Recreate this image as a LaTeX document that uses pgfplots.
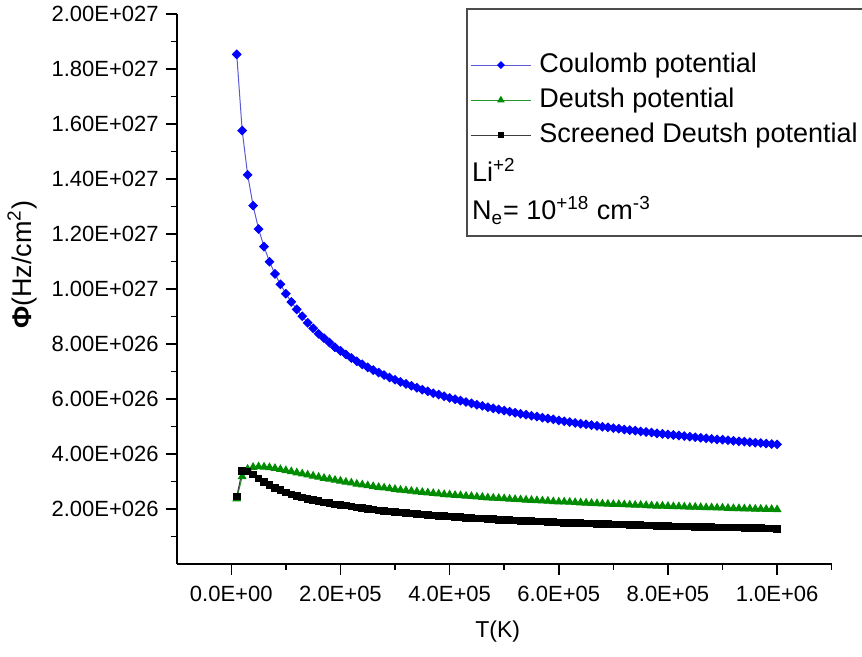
\documentclass[border=0pt]{standalone}
\usepackage{fontspec}
\setmainfont{Liberation Sans}
\usepackage{pgfplots}
\usepackage{pgfplotstable}
\pgfplotsset{compat=1.18}
\usetikzlibrary{calc}
\definecolor{cblue}{RGB}{0,0,255}
\definecolor{cblueline}{RGB}{90,90,215}
\definecolor{cgreen}{RGB}{0,140,0}
\definecolor{cgreenline}{RGB}{40,150,40}
\definecolor{cblackline}{RGB}{60,60,60}

\pgfplotstableread{
T C D S
10000 1.853e27 2.37e26 2.45e26
20000 1.576e27 3.18e26 3.38e26
30000 1.415e27 3.45e26 3.36e26
40000 1.303e27 3.52e26 3.25e26
50000 1.218e27 3.54e26 3.11e26
60000 1.154e27 3.53e26 2.98e26
70000 1.099e27 3.51e26 2.87e26
80000 1.055e27 3.48e26 2.77e26
90000 1.017e27 3.44e26 2.68e26
100000 9.83e26 3.40e26 2.60e26
110000 9.53e26 3.36e26 2.53e26
120000 9.26e26 3.32e26 2.47e26
130000 9.01e26 3.28e26 2.42e26
140000 8.77e26 3.24e26 2.37e26
150000 8.57e26 3.20e26 2.32e26
160000 8.37e26 3.16e26 2.28e26
170000 8.21e26 3.12e26 2.24e26
180000 8.05e26 3.09e26 2.21e26
190000 7.88e26 3.05e26 2.17e26
200000 7.75e26 3.02e26 2.15e26
210000 7.62e26 2.98e26 2.12e26
220000 7.49e26 2.95e26 2.09e26
230000 7.37e26 2.91e26 2.06e26
240000 7.26e26 2.88e26 2.03e26
250000 7.15e26 2.85e26 2.00e26
260000 7.05e26 2.82e26 1.98e26
270000 6.96e26 2.79e26 1.95e26
280000 6.87e26 2.77e26 1.93e26
290000 6.78e26 2.74e26 1.91e26
300000 6.70e26 2.72e26 1.89e26
310000 6.62e26 2.69e26 1.87e26
320000 6.55e26 2.67e26 1.85e26
330000 6.48e26 2.65e26 1.83e26
340000 6.41e26 2.63e26 1.81e26
350000 6.34e26 2.61e26 1.80e26
360000 6.28e26 2.59e26 1.78e26
370000 6.21e26 2.57e26 1.77e26
380000 6.16e26 2.55e26 1.75e26
390000 6.10e26 2.53e26 1.74e26
400000 6.04e26 2.52e26 1.72e26
410000 5.99e26 2.50e26 1.71e26
420000 5.94e26 2.49e26 1.70e26
430000 5.89e26 2.47e26 1.68e26
440000 5.84e26 2.46e26 1.67e26
450000 5.79e26 2.44e26 1.66e26
460000 5.75e26 2.43e26 1.65e26
470000 5.70e26 2.41e26 1.64e26
480000 5.66e26 2.40e26 1.63e26
490000 5.62e26 2.39e26 1.61e26
500000 5.58e26 2.38e26 1.60e26
510000 5.54e26 2.36e26 1.59e26
520000 5.50e26 2.35e26 1.58e26
530000 5.46e26 2.34e26 1.57e26
540000 5.43e26 2.33e26 1.56e26
550000 5.39e26 2.32e26 1.56e26
560000 5.36e26 2.31e26 1.55e26
570000 5.32e26 2.30e26 1.54e26
580000 5.29e26 2.29e26 1.53e26
590000 5.26e26 2.27e26 1.52e26
600000 5.22e26 2.26e26 1.51e26
610000 5.19e26 2.26e26 1.50e26
620000 5.16e26 2.25e26 1.50e26
630000 5.13e26 2.24e26 1.49e26
640000 5.10e26 2.23e26 1.48e26
650000 5.08e26 2.22e26 1.47e26
660000 5.05e26 2.21e26 1.47e26
670000 5.02e26 2.20e26 1.46e26
680000 4.99e26 2.19e26 1.45e26
690000 4.97e26 2.18e26 1.45e26
700000 4.94e26 2.17e26 1.44e26
710000 4.92e26 2.17e26 1.43e26
720000 4.89e26 2.16e26 1.43e26
730000 4.87e26 2.15e26 1.42e26
740000 4.85e26 2.14e26 1.41e26
750000 4.82e26 2.14e26 1.41e26
760000 4.80e26 2.13e26 1.40e26
770000 4.78e26 2.12e26 1.40e26
780000 4.75e26 2.11e26 1.39e26
790000 4.73e26 2.11e26 1.39e26
800000 4.71e26 2.10e26 1.38e26
810000 4.69e26 2.09e26 1.37e26
820000 4.67e26 2.09e26 1.37e26
830000 4.65e26 2.08e26 1.36e26
840000 4.63e26 2.07e26 1.36e26
850000 4.61e26 2.07e26 1.35e26
860000 4.59e26 2.06e26 1.35e26
870000 4.57e26 2.05e26 1.34e26
880000 4.55e26 2.05e26 1.34e26
890000 4.53e26 2.04e26 1.33e26
900000 4.52e26 2.04e26 1.33e26
910000 4.50e26 2.03e26 1.32e26
920000 4.48e26 2.02e26 1.32e26
930000 4.46e26 2.02e26 1.32e26
940000 4.45e26 2.01e26 1.31e26
950000 4.43e26 2.01e26 1.31e26
960000 4.41e26 2.00e26 1.30e26
970000 4.40e26 2.00e26 1.30e26
980000 4.38e26 1.99e26 1.29e26
990000 4.36e26 1.99e26 1.29e26
1000000 4.35e26 1.98e26 1.28e26
}\datatable

\begin{document}
\begin{tikzpicture}
\begin{axis}[
  name=ax, at={(0,0)}, anchor=south west,
  scale only axis, width=327.5pt, height=275pt,
  xmin=-100000, xmax=1100000, ymin=0, ymax=2e27,
  scaled x ticks=false, scaled y ticks=false,
  axis x line=bottom, axis y line=left,
  axis line style={-, line width=0.9pt, black},
  xtick={0,200000,400000,600000,800000,1000000},
  xticklabels={0.0E+00,2.0E+05,4.0E+05,6.0E+05,8.0E+05,1.0E+06},
  minor xtick={100000,300000,500000,700000,900000,1100000},
  ytick={2e26,4e26,6e26,8e26,1e27,1.2e27,1.4e27,1.6e27,1.8e27,2e27},
  yticklabels={2.00E+026,4.00E+026,6.00E+026,8.00E+026,1.00E+027,1.20E+027,1.40E+027,1.60E+027,1.80E+027,2.00E+027},
  minor ytick={1e26,3e26,5e26,7e26,9e26,1.1e27,1.3e27,1.5e27,1.7e27,1.9e27},
  tick align=outside,
  major tick length=5.5pt, minor tick length=3pt,
  every tick/.style={line width=0.75pt, black},
  tick label style={font=\fontsize{11}{13}\selectfont},
  x tick label style={yshift=-2pt},
  every axis x label/.style={at={(axis description cs:0.49,0)}, anchor=center, yshift=-34pt, font=\fontsize{11.5}{13}\selectfont},
  every axis y label/.style={at={(axis description cs:-0.2362,0.544)}, rotate=90, anchor=center, font=\fontsize{13.5}{15}\selectfont},
  xlabel={T(K)},
  ylabel={{\bfseries Φ}(Hz/cm\textsuperscript{2})},
  clip=false,
  legend cell align=left,
  legend style={at={(axis description cs:0.4478,0.9315)}, anchor=north west,
    draw=none, fill=none, inner sep=0pt, row sep=4.5pt, column sep=4pt,
    font=\fontsize{13.5}{16}\selectfont,
    nodes={inner sep=0pt, text height=10pt, text depth=3pt}},
  legend image code/.code={
    \draw[#1, mark=none] (0pt,0pt) -- (30pt,0pt);
    \draw[#1] plot coordinates {(15pt,0pt)};
  },
]
\addplot[color=cblueline, line width=0.5pt, mark=square*, mark size=1.5pt,
  mark options={rotate=45, draw=cblue, fill=cblue, solid},
  legend image post style={mark size=1.15pt}]
  table[x=T, y=C] {\datatable};
\addlegendentry{Coulomb potential}
\addplot[color=cgreenline, line width=0.5pt, mark=triangle*, mark size=2.1pt,
  mark options={draw=cgreen, fill=cgreen, solid},
  legend image post style={mark size=1.7pt}]
  table[x=T, y=D] {\datatable};
\addlegendentry{Deutsh potential}
\addplot[color=cblackline, line width=0.5pt, mark=square*, mark size=1.65pt,
  mark options={draw=black, fill=black, solid},
  legend image post style={mark size=1.2pt}]
  table[x=T, y=S] {\datatable};
\addlegendentry{Screened Deutsh potential}
\end{axis}
\node[anchor=base west, font=\fontsize{13.5}{16}\selectfont, inner sep=0pt] at ($(ax.south west)+(147.5pt,191.15pt)$) {Li\textsuperscript{+2}};
\node[anchor=base west, font=\fontsize{13.5}{16}\selectfont, inner sep=0pt] at ($(ax.south west)+(147.5pt,172pt)$) {N\textsubscript{e}= 10\textsuperscript{+18} cm\textsuperscript{-3}};
\draw[line width=0.9pt, color=black!70] ($(ax.south west)+(145pt,164pt)$) rectangle ($(ax.south west)+(360pt,277.35pt)$);
\pgfresetboundingbox
\path[use as bounding box] ($(ax.south west)+(-88.35pt,-46.5pt)$) rectangle ($(ax.south west)+(342.65pt,282pt)$);
\end{tikzpicture}
\end{document}
